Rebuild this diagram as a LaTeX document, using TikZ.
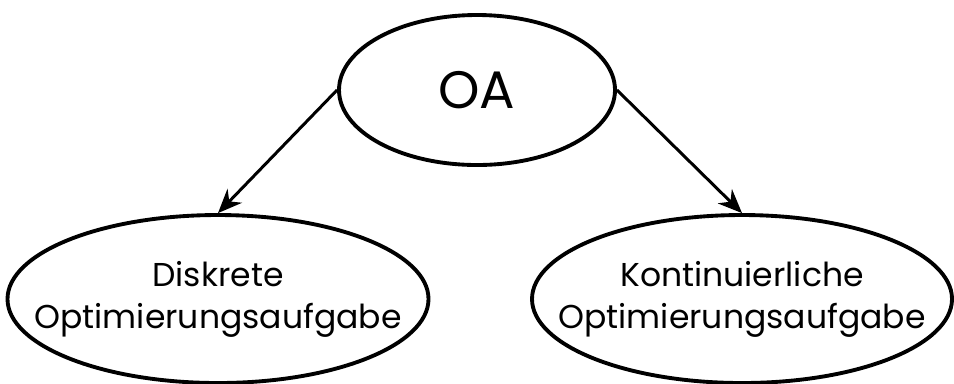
\documentclass[tikz,border=0pt]{standalone}
\usepackage{fontspec}
\setmainfont{Poppins}
\usetikzlibrary{shapes.geometric,arrows.meta}

\tikzset{
  task/.style={draw, ellipse, line width=1.1pt, inner ysep=0pt, inner xsep=-0.5cm,
    align=center, font=\fontsize{9.4}{12}\selectfont},
  link/.style={-{Stealth[length=2.4mm,width=2mm]}, line width=0.85pt}
}

\begin{document}
\begin{tikzpicture}
  \useasboundingbox (0, 0) rectangle (9.54, 3.83);
  \node[task, inner xsep=0pt, minimum width=2.76cm, minimum height=1.5cm,
    font=\fontsize{15}{18}\selectfont] (oa) at (4.77, 2.93) {OA};
  \node[task, minimum width=4.21cm, minimum height=1.68cm] (diskret) at (2.18, 0.84)
    {Diskrete\\Optimierungsaufgabe};
  \node[task, minimum width=4.20cm, minimum height=1.68cm] (kontinuierlich) at (7.42, 0.84)
    {Kontinuierliche\\Optimierungsaufgabe};

  \draw[link] (oa.west) -- (diskret.north);
  \draw[link] (oa.east) -- (kontinuierlich.north);
\end{tikzpicture}
\end{document}
